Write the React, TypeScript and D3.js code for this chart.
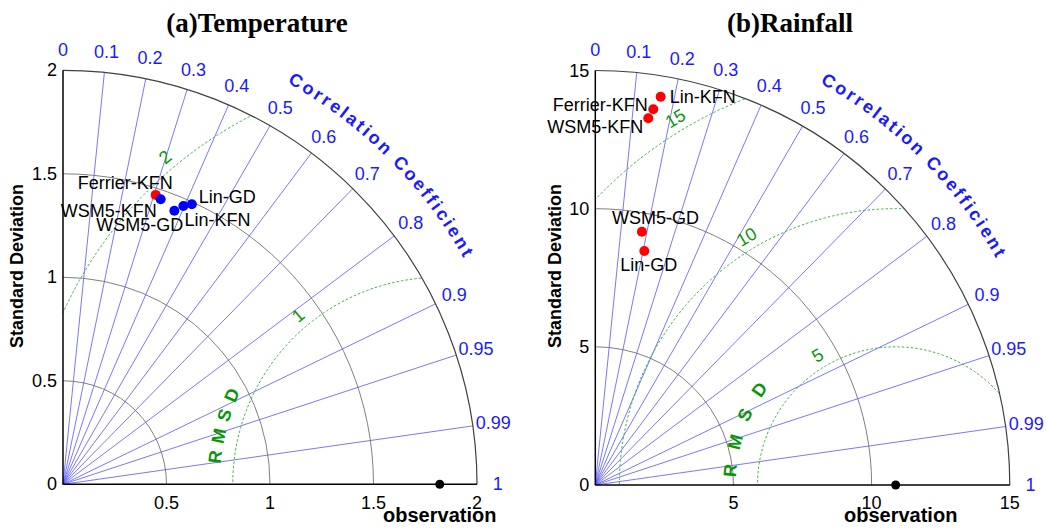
import React from "react";
import * as d3 from "d3";

// ---------- data ----------
const MODELS = ["Ferrier-KFN", "WSM5-KFN", "WSM5-GD", "Lin-KFN", "Lin-GD"];

const TEMP_STD = [1.468, 1.456, 1.427, 1.465, 1.489];
const TEMP_CORR = [0.305, 0.324, 0.377, 0.397, 0.418];
const TEMP_OBS_STD = 1.82;
const TEMP_STD_TICKS = [0, 0.5, 1, 1.5, 2];
const TEMP_RMSD_LEVELS = [1, 2];

const RAIN_STD = [13.76, 13.41, 9.32, 14.25, 8.65];
const RAIN_CORR = [0.1525, 0.143, 0.181, 0.166, 0.205];
const RAIN_OBS_STD = 10.87;
const RAIN_STD_TICKS = [0, 5, 10, 15];
const RAIN_RMSD_LEVELS = [5, 10, 15];

const CORR_LINES = [0.1, 0.2, 0.3, 0.4, 0.5, 0.6, 0.7, 0.8, 0.9, 0.95, 0.99];
const CORR_LABELS = [0, 0.1, 0.2, 0.3, 0.4, 0.5, 0.6, 0.7, 0.8, 0.9, 0.95, 0.99, 1];

// ---------- styles / layout ----------
const TEMP_COLORS = ["#ff0000", "#0000ff", "#0000ff", "#0000ff", "#0000ff"];
const RAIN_COLORS = ["#ff0000", "#ff0000", "#ff0000", "#ff0000", "#ff0000"];
// [dx, dy, anchor] label placement relative to marker
const TEMP_LABEL_LAYOUT: [number, number, string][] = [
  [17, -12, "end"],
  [-4, 11.5, "end"],
  [9, 14, "end"],
  [1, 14, "start"],
  [7, -7.5, "start"],
];
const RAIN_LABEL_LAYOUT: [number, number, string][] = [
  [-5.6, -4, "end"],
  [-5, 9, "end"],
  [-30, -13.4, "start"],
  [9, 0, "start"],
  [-24, 14, "start"],
];

const SANS = "'Liberation Sans', Arial, sans-serif";
const SERIF = "'Liberation Serif', 'Times New Roman', serif";
const BLUE_TEXT = "#1a1aff";
const BLUE_LINE = "#5555ff";
const GREEN_TEXT = "#0a960a";
const GREEN_LINE = "#3cb43c";

type PanelProps = {
  id: string;
  ox: number;
  oy: number;
  R: number;
  ticks: number[];
  obs: number;
  stds: number[];
  corrs: number[];
  colors: string[];
  labelLayout: [number, number, string][];
  rmsdLevels: number[];
  rmsdLabelAngle: number;
  rmsdTitle: { radius: number; start: number; step: number };
  title: string;
  titleX: number;
  yLabelX: number;
  obsLabelDx: number;
};

function TaylorPanel(p: PanelProps) {
  const maxStd = p.ticks[p.ticks.length - 1];
  const r = d3.scaleLinear().domain([0, maxStd]).range([0, p.R]);
  const { ox, oy, R } = p;
  const polar = (s: number, c: number) => {
    const a = Math.acos(Math.max(-1, Math.min(1, c)));
    return [ox + r(s) * Math.cos(a), oy - r(s) * Math.sin(a)];
  };
  const quarterArc = (rad: number) => `M${ox + rad},${oy} A${rad},${rad} 0 0 0 ${ox},${oy - rad}`;
  const clipId = `clip-${p.id}`;
  const titlePathId = `ccpath-${p.id}`;
  const rc = R * 1.111;
  const a0 = (80 * Math.PI) / 180;
  const a1 = (10 * Math.PI) / 180;
  const ccPath = `M${ox + rc * Math.cos(a0)},${oy - rc * Math.sin(a0)} A${rc},${rc} 0 0 1 ${ox + rc * Math.cos(a1)},${oy - rc * Math.sin(a1)}`;
  const obsX = ox + r(p.obs);

  return (
    <g>
      <defs>
        <clipPath id={clipId}>
          <path d={`M${ox},${oy} L${ox + R},${oy} A${R},${R} 0 0 0 ${ox},${oy - R} Z`} />
        </clipPath>
        <path id={titlePathId} d={ccPath} />
      </defs>

      {/* title */}
      <text x={p.titleX} y={32} textAnchor="middle" fontFamily={SERIF} fontWeight="bold" fontSize={27} fill="#000">
        {p.title}
      </text>

      {/* std arcs */}
      {p.ticks.filter((t) => t > 0 && t < maxStd).map((t) => (
        <path key={`sa${t}`} d={quarterArc(r(t))} fill="none" stroke="#808080" strokeWidth={1} />
      ))}

      {/* correlation lines */}
      {CORR_LINES.map((c) => {
        const [x, y] = polar(maxStd, c);
        return <line key={`cl${c}`} x1={ox} y1={oy} x2={x} y2={y} stroke={BLUE_LINE} strokeWidth={0.8} />;
      })}

      {/* RMSD contours */}
      <g clipPath={`url(#${clipId})`}>
        {p.rmsdLevels.map((lv) => (
          <circle key={`rm${lv}`} cx={obsX} cy={oy} r={r(lv)} fill="none" stroke={GREEN_LINE} strokeWidth={1} strokeDasharray="2.5,2" />
        ))}
      </g>
      {p.rmsdLevels.map((lv) => {
        const a = (p.rmsdLabelAngle * Math.PI) / 180;
        const rr = r(lv) + 13;
        const x = obsX + rr * Math.cos(a);
        const y = oy - rr * Math.sin(a);
        const rot = -(p.rmsdLabelAngle - 90);
        return (
          <text key={`rl${lv}`} x={x} y={y} transform={`rotate(${rot},${x},${y})`} textAnchor="middle" dominantBaseline="central" fontFamily={SANS} fontSize={18} fill={GREEN_TEXT}>
            {String(lv)}
          </text>
        );
      })}
      {"RMSD".split("").map((ch, i) => {
        const ang = p.rmsdTitle.start + i * p.rmsdTitle.step;
        const a = (ang * Math.PI) / 180;
        const x = obsX + p.rmsdTitle.radius * Math.cos(a);
        const y = oy - p.rmsdTitle.radius * Math.sin(a);
        const rot = -(ang - 90);
        return (
          <text key={`rt${i}`} x={x} y={y} transform={`rotate(${rot},${x},${y})`} textAnchor="middle" dominantBaseline="central" fontFamily={SANS} fontWeight="bold" fontSize={18} fill={GREEN_TEXT}>
            {ch}
          </text>
        );
      })}

      {/* outer arc and axes */}
      <path d={quarterArc(R)} fill="none" stroke="#404040" strokeWidth={1.2} />
      <line x1={ox} y1={oy} x2={ox + R} y2={oy} stroke="#000" strokeWidth={1.5} />
      <line x1={ox} y1={oy} x2={ox} y2={oy - R} stroke="#000" strokeWidth={1.5} />

      {/* tick labels */}
      {p.ticks.map((t) => (
        <text key={`yt${t}`} x={ox - 6} y={oy - r(t)} textAnchor="end" dominantBaseline="central" fontFamily={SANS} fontSize={18} fill="#000">
          {String(t)}
        </text>
      ))}
      {p.ticks.filter((t) => t > 0).map((t) => (
        <text key={`xt${t}`} x={ox + r(t)} y={503} textAnchor="middle" dominantBaseline="central" fontFamily={SANS} fontSize={18} fill="#000">
          {String(t)}
        </text>
      ))}

      {/* correlation labels */}
      {CORR_LABELS.map((c) => {
        const [x, y] = polar(maxStd * 1.05, c);
        return (
          <text key={`ct${c}`} x={x} y={y} textAnchor="middle" dominantBaseline="central" fontFamily={SANS} fontSize={18} fill={BLUE_TEXT}>
            {String(c)}
          </text>
        );
      })}
      <text fontFamily={SANS} fontWeight="bold" fontSize={18} fill={BLUE_TEXT} letterSpacing={2.6}>
        <textPath href={`#${titlePathId}`} startOffset="50%" textAnchor="middle">
          Correlation Coefficient
        </textPath>
      </text>

      {/* axis titles */}
      <text x={p.yLabelX} y={266} transform={`rotate(-90,${p.yLabelX},266)`} textAnchor="middle" dominantBaseline="central" fontFamily={SANS} fontWeight="bold" fontSize={18} fill="#000">
        Standard Deviation
      </text>
      <text x={obsX + p.obsLabelDx} y={522} textAnchor="middle" fontFamily={SANS} fontWeight="bold" fontSize={20} fill="#000">
        observation
      </text>

      {/* observation point */}
      <circle cx={obsX} cy={oy} r={4.5} fill="#000" />

      {/* model points */}
      {MODELS.map((m, i) => {
        const [x, y] = polar(p.stds[i], p.corrs[i]);
        return <circle key={`pt${m}`} cx={x} cy={y} r={5} fill={p.colors[i]} />;
      })}
      {MODELS.map((m, i) => {
        const [x, y] = polar(p.stds[i], p.corrs[i]);
        const [dx, dy, anchor] = p.labelLayout[i];
        return (
          <text key={`lb${m}`} x={x + dx} y={y + dy} textAnchor={anchor as any} dominantBaseline="central" fontFamily={SANS} fontSize={18} fill="#000">
            {m}
          </text>
        );
      })}
    </g>
  );
}

export default function App() {
  return (
    <svg width={1047} height={528} style={{ position: "absolute", left: 0, top: 0, background: "#fff", display: "block" }}>
      <rect x={0} y={0} width={1047} height={528} fill="#fff" />
      <TaylorPanel
        id="temp"
        ox={63}
        oy={484.3}
        R={414}
        ticks={TEMP_STD_TICKS}
        obs={TEMP_OBS_STD}
        stds={TEMP_STD}
        corrs={TEMP_CORR}
        colors={TEMP_COLORS}
        labelLayout={TEMP_LABEL_LAYOUT}
        rmsdLevels={TEMP_RMSD_LEVELS}
        rmsdLabelAngle={130}
        rmsdTitle={{ radius: 226, start: 173, step: -5.4 }}
        title="(a)Temperature"
        titleX={257}
        yLabelX={17}
        obsLabelDx={0}
      />
      <TaylorPanel
        id="rain"
        ox={595.3}
        oy={485}
        R={414.5}
        ticks={RAIN_STD_TICKS}
        obs={RAIN_OBS_STD}
        stds={RAIN_STD}
        corrs={RAIN_CORR}
        colors={RAIN_COLORS}
        labelLayout={RAIN_LABEL_LAYOUT}
        rmsdLevels={RAIN_RMSD_LEVELS}
        rmsdLabelAngle={121}
        rmsdTitle={{ radius: 166, start: 175, step: -10 }}
        title="(b)Rainfall"
        titleX={790}
        yLabelX={555}
        obsLabelDx={5}
      />
    </svg>
  );
}
